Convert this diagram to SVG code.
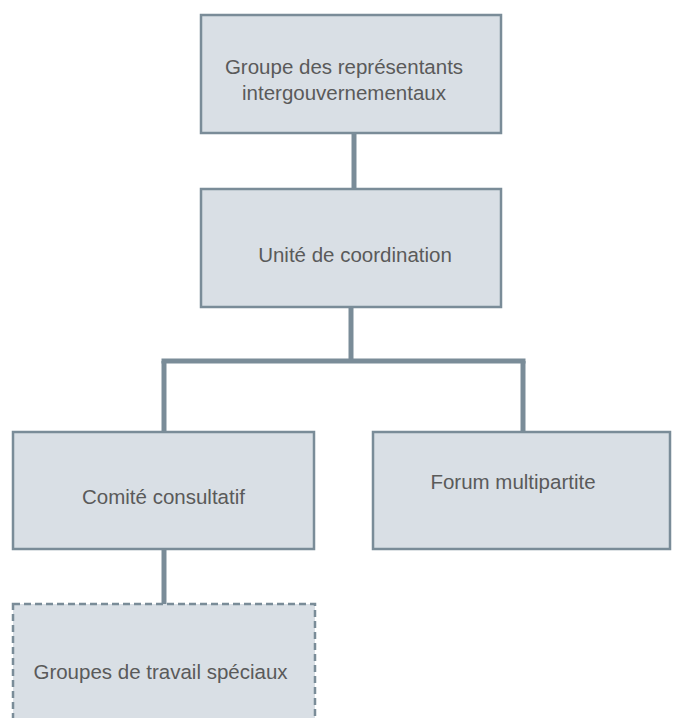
<svg xmlns="http://www.w3.org/2000/svg" width="676" height="718" viewBox="0 0 676 718">
<style>
.box{fill:#d9dfe5;stroke:#7a8c98;stroke-width:2.5}
.dash{stroke-dasharray:7,4}
.lbl{font-family:"Liberation Sans",Arial,sans-serif;font-size:20.5px;fill:#5a5a5a;text-anchor:middle}
.conn{stroke:#7a8c98;stroke-width:5;fill:none}
</style>
<rect width="676" height="718" fill="#ffffff"/>
<g id="connectors">
<line class="conn" x1="354" y1="133" x2="354" y2="190"/>
<line class="conn" x1="351" y1="307" x2="351" y2="361"/>
<line class="conn" x1="161.5" y1="361" x2="525.5" y2="361"/>
<line class="conn" x1="164" y1="361" x2="164" y2="432"/>
<line class="conn" x1="523" y1="361" x2="523" y2="432"/>
<line class="conn" x1="164" y1="549" x2="164" y2="605"/>
</g>
<g id="node1">
<rect class="box" x="201" y="15" width="300" height="118"/>
<text class="lbl" x="344" y="74">Groupe des représentants</text>
<text class="lbl" x="344" y="100">intergouvernementaux</text>
</g>
<g id="node2">
<rect class="box" x="201" y="189" width="300" height="118"/>
<text class="lbl" x="355" y="262">Unité de coordination</text>
</g>
<g id="node3">
<rect class="box" x="13" y="432" width="301" height="117"/>
<text class="lbl" x="163.5" y="504">Comité consultatif</text>
</g>
<g id="node4">
<rect class="box" x="373" y="432" width="297" height="117"/>
<text class="lbl" x="513" y="489">Forum multipartite</text>
</g>
<g id="node5">
<rect class="box dash" x="13" y="604" width="302" height="130"/>
<text class="lbl" x="160.5" y="679">Groupes de travail spéciaux</text>
</g>
</svg>
